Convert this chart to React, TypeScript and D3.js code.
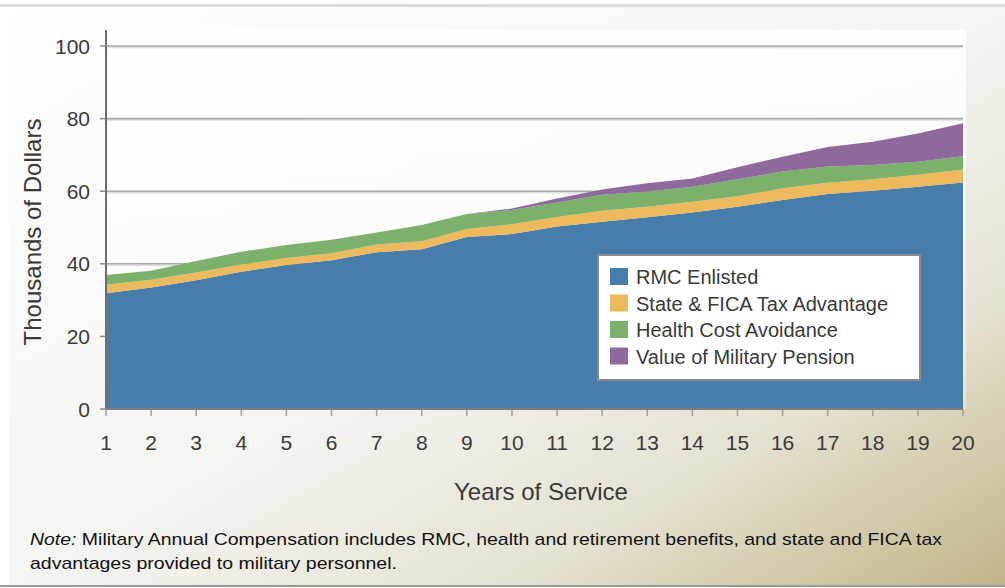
import React from "react";
import * as d3 from "d3";

// Years of service on the x axis
const years = [1, 2, 3, 4, 5, 6, 7, 8, 9, 10, 11, 12, 13, 14, 15, 16, 17, 18, 19, 20];

// Compensation components, thousands of dollars per year of service
const rmcEnlisted = [31.9, 33.5, 35.5, 37.8, 39.7, 41.0, 43.2, 44.0, 47.4, 48.2, 50.3, 51.6, 52.8, 54.1, 55.7, 57.6, 59.2, 60.1, 61.2, 62.4];
const taxAdvantage = [2.3, 2.1, 2.1, 2.0, 1.9, 1.9, 2.1, 2.2, 2.2, 2.7, 2.6, 3.0, 2.9, 3.0, 2.9, 3.2, 3.1, 3.2, 3.3, 3.6];
const healthCost = [2.7, 2.5, 3.2, 3.5, 3.6, 3.7, 3.3, 4.5, 4.1, 3.9, 4.0, 4.4, 4.2, 4.1, 4.7, 4.6, 4.5, 3.9, 3.6, 3.6];
const militaryPension = [0, 0, 0, 0, 0, 0, 0, 0, 0, 0.4, 1.1, 1.5, 2.3, 2.3, 3.3, 4.1, 5.4, 6.4, 7.8, 9.1];

const seriesNames = ["RMC Enlisted", "State & FICA Tax Advantage", "Health Cost Avoidance", "Value of Military Pension"];
const seriesKeys = ["rmc", "tax", "health", "pension"];
const seriesColors = ["#467dab", "#ecb95c", "#7bb16b", "#8e699b"];

const yTicks = [0, 20, 40, 60, 80, 100];

const W = 1005;
const H = 588;
const M = { left: 106, right: 963, top: 30, bottom: 409 };
const FONT = "'Liberation Sans', Arial, Helvetica, sans-serif";

export default function App() {
  const rows = years.map((yr, i) => ({
    year: yr,
    rmc: rmcEnlisted[i],
    tax: taxAdvantage[i],
    health: healthCost[i],
    pension: militaryPension[i],
  }));

  const x = d3.scaleLinear().domain([1, 20]).range([M.left, M.right]);
  const y = d3.scaleLinear().domain([0, 100]).range([M.bottom, 46]);

  const stacked = d3.stack<any>().keys(seriesKeys)(rows);
  const area = d3
    .area<any>()
    .x((d) => x(d.data.year))
    .y0((d) => y(d[0]))
    .y1((d) => y(d[1]));

  const legendX = 598;
  const legendY = 255;
  const legendRow = 26.5;

  return (
    <svg
      width={W}
      height={H}
      style={{ position: "absolute", left: 0, top: 0, display: "block" }}
      fontFamily={FONT}
    >
      <defs>
        <linearGradient id="panelBg" x1="0" y1="0" x2="1" y2="1">
          <stop offset="0" stopColor="#ffffff" />
          <stop offset="0.5" stopColor="#f4f4f1" />
          <stop offset="0.75" stopColor="#e6e2d2" />
          <stop offset="1" stopColor="#c0b487" />
        </linearGradient>
        <linearGradient id="plotBg" x1="0" y1="0" x2="0" y2="1">
          <stop offset="0" stopColor="#ffffff" stopOpacity="0.9" />
          <stop offset="1" stopColor="#ffffff" stopOpacity="0.3" />
        </linearGradient>
      </defs>

      <rect x={0} y={0} width={W} height={H} fill="#ffffff" />
      <rect x={9} y={7} width={W - 9} height={578} fill="url(#panelBg)" />
      <line x1={0} x2={W} y1={5.5} y2={5.5} stroke="#dcdcdc" strokeWidth={3} />
      <line x1={0} x2={W} y1={586} y2={586} stroke="#9a9a96" strokeWidth={2} />

      {/* plot background */}
      <rect x={M.left} y={M.top} width={M.right - M.left + 3} height={M.bottom - M.top} fill="url(#plotBg)" />

      {/* gridlines */}
      {yTicks.filter((t) => t > 0).map((t) => (
        <g key={t}>
          <line x1={M.left} x2={M.right} y1={y(t) + 1.5} y2={y(t) + 1.5} stroke="#dedede" strokeWidth={1.5} />
          <line x1={M.left} x2={M.right} y1={y(t)} y2={y(t)} stroke="#a9a9a9" strokeWidth={1.6} />
        </g>
      ))}

      {/* stacked areas */}
      {stacked.map((s, i) => (
        <path key={s.key} d={area(s) || ""} fill={seriesColors[i]} />
      ))}

      {/* y axis */}
      <line x1={M.left} x2={M.left} y1={M.top} y2={M.bottom} stroke="#6d6d6d" strokeWidth={2} />
      {yTicks.map((t) => (
        <g key={t}>
          <line x1={M.left - 6} x2={M.left} y1={y(t)} y2={y(t)} stroke="#8a8a8a" strokeWidth={1.5} />
          <text x={M.left - 16} y={y(t)} dy="0.36em" textAnchor="end" fontSize={21} fill="#3a3a3a">
            {t}
          </text>
        </g>
      ))}

      {/* x axis */}
      <line x1={M.left} x2={M.right} y1={M.bottom} y2={M.bottom} stroke="#7c7c7c" strokeWidth={2} />
      {years.map((yr) => (
        <g key={yr}>
          <line x1={x(yr)} x2={x(yr)} y1={M.bottom + 1} y2={M.bottom + 7} stroke="#a0a0a0" strokeWidth={1.5} />
          <text x={x(yr)} y={442} dy="0.36em" textAnchor="middle" fontSize={21} fill="#3a3a3a">
            {yr}
          </text>
        </g>
      ))}

      {/* axis titles */}
      <text x={541} y={491} dy="0.36em" textAnchor="middle" fontSize={24} fill="#3a3a3a">
        Years of Service
      </text>
      <text
        transform={`translate(32,${232}) rotate(-90)`}
        dy="0.36em"
        textAnchor="middle"
        fontSize={24}
        fill="#3a3a3a"
      >
        Thousands of Dollars
      </text>

      {/* legend */}
      <rect x={legendX} y={legendY} width={322} height={125} fill="#ffffff" stroke="#8a8a8a" strokeWidth={2} />
      {seriesNames.map((name, i) => (
        <g key={name}>
          <rect x={legendX + 12} y={legendY + 13 + i * legendRow} width={18} height={17} fill={seriesColors[i]} />
          <text x={legendX + 38} y={legendY + 22 + i * legendRow} dy="0.36em" fontSize={20} fill="#3a3a3a">
            {name}
          </text>
        </g>
      ))}

      {/* note */}
      <text x={30} y={539} dy="0.36em" fontSize={17} fill="#111111" textLength={912} lengthAdjust="spacingAndGlyphs">
        <tspan fontStyle="italic">Note:</tspan>
        <tspan> Military Annual Compensation includes RMC, health and retirement benefits, and state and FICA tax</tspan>
      </text>
      <text x={30} y={563} dy="0.36em" fontSize={17} fill="#111111" textLength={367} lengthAdjust="spacingAndGlyphs">
        advantages provided to military personnel.
      </text>
    </svg>
  );
}
